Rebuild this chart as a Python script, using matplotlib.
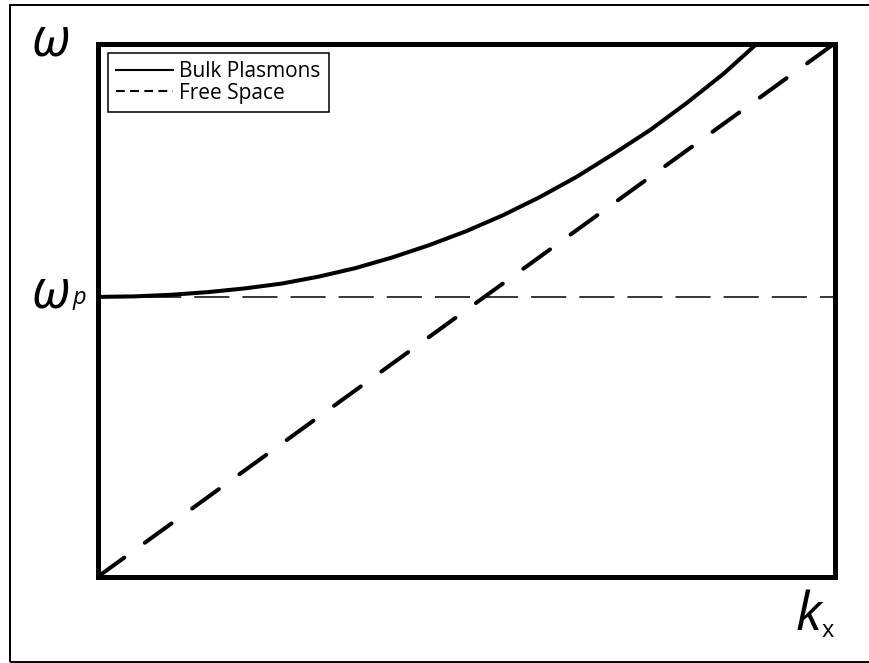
import matplotlib
matplotlib.use("Agg")
import matplotlib.pyplot as plt
from matplotlib.lines import Line2D
from matplotlib.patches import Rectangle

# -----------------------------
# Dispersion data (normalised units)
# -----------------------------

# free-space light line
k_free = [0.0, 1.0]
w_free = [0.0, 1.0]

# plasma frequency
w_p = 0.525

# bulk plasmon branch
k_bulk = [0.0, 0.05, 0.10, 0.15, 0.20, 0.25, 0.30, 0.35, 0.40, 0.45,
          0.50, 0.55, 0.60, 0.65, 0.70, 0.75, 0.80, 0.85, 0.895]
w_bulk = [0.525, 0.526, 0.529, 0.534, 0.541, 0.550, 0.563, 0.579, 0.599, 0.622,
          0.648, 0.678, 0.712, 0.750, 0.793, 0.838, 0.889, 0.944, 1.0]

W, H = 869, 663
fig = plt.figure(figsize=(W / 100, H / 100), dpi=100)

# outer frame
fig.patches.append(Rectangle((10 / W, 1 - 662 / H), 1.0, (662 - 5) / H,
                             transform=fig.transFigure, fill=False,
                             edgecolor="black", linewidth=1.4))

ax = fig.add_axes([97.5 / W, (H - 577) / H, (834.5 - 97.5) / W, (577 - 43.5) / H])

ax.plot(k_bulk, w_bulk, color="black", linewidth=2.9, solid_capstyle="round")
ax.plot(k_free, w_free, color="black", linewidth=2.9,
        dashes=(8.2, 6.3), dash_capstyle="round")
ax.axhline(w_p, color="black", linewidth=1.1, dashes=(23, 8.5))

ax.set_xlim(0, 1)
ax.set_ylim(0, 1)
ax.set_xticks([])
ax.set_yticks([])
for side in ax.spines.values():
    side.set_linewidth(3.6)
    side.set_zorder(5)

handles = [
    Line2D([], [], color="black", linewidth=1.5),
    Line2D([], [], color="black", linewidth=1.5, dashes=(4.2, 2.6)),
]
leg = ax.legend(handles, ["Bulk Plasmons", "Free Space"],
                loc="upper left", bbox_to_anchor=(108 / W, 1 - 53 / H),
                bbox_transform=fig.transFigure, borderaxespad=0,
                prop={"family": "Open Sans", "size": 15},
                handlelength=2.7, handletextpad=0.3, borderpad=0.4,
                labelspacing=0.02, fancybox=False, framealpha=1)
leg.get_frame().set_edgecolor("black")
leg.get_frame().set_linewidth(1.1)

# axis symbols
fig.text(51 / W, 1 - 55 / H, "ω", fontsize=38, style="italic",
         family="Open Sans", ha="center", va="baseline")
fig.text(51 / W, 1 - 307 / H, "ω", fontsize=38, style="italic",
         family="Open Sans", ha="center", va="baseline")
fig.text(73 / W, 1 - 304 / H, "p", fontsize=17, style="italic",
         family="Open Sans", ha="left", va="baseline")
fig.text(796 / W, 1 - 630 / H, "k", fontsize=38, style="italic",
         family="Open Sans", ha="left", va="baseline")
fig.text(822 / W, 1 - 637 / H, "x", fontsize=17,
         family="Open Sans", ha="left", va="baseline")

plt.savefig("out.png", dpi=100)
plt.close()
